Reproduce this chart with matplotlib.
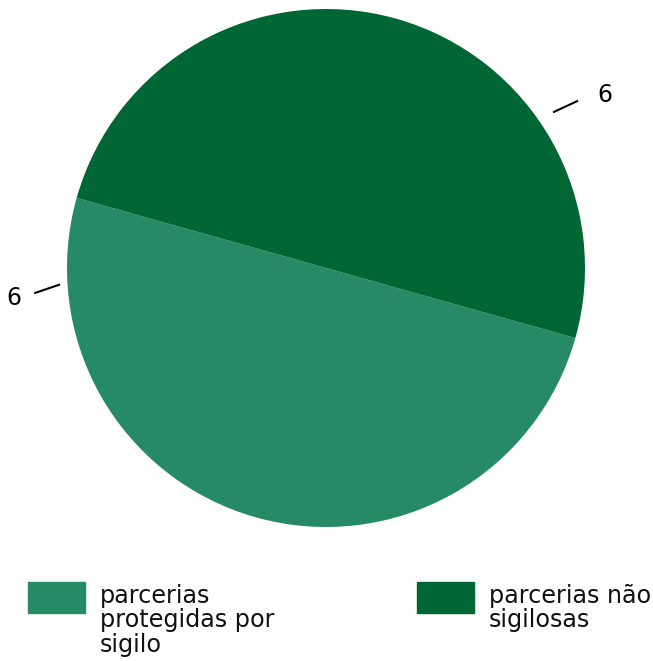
import matplotlib.pyplot as plt
import numpy as np
from matplotlib.patches import Rectangle

# slice data
categories = ['parcerias\nprotegidas por\nsigilo', 'parcerias não\nsigilosas']
values = [6, 6]
colors = ['#268a66', '#006633']

fig = plt.figure(figsize=(6.53, 6.61), dpi=100)
W, H = 653, 661

# pie area: center (326, 268) px, radius 259 px
cx, cy, r = 326, 268, 259
ax = fig.add_axes([(cx - r) / W, (H - cy - r) / H, 2 * r / W, 2 * r / H])
ax.axis('off')

ax.pie(values, colors=colors, startangle=164.3, radius=1,
       wedgeprops=dict(linewidth=0))
ax.set_xlim(-1, 1)
ax.set_ylim(-1, 1)

# value labels with short leader lines
# (start angle, start r, end angle, end r, text angle, text r), r as fraction of R
label_pos = [(183.6, 1.033, 184.9, 1.127, 185.5, 1.21),
             (34.4, 1.067, 33.6, 1.164, 31.8, 1.267)]
for val, (a0, r0, a1, r1, ta, tr) in zip(values, label_pos):
    a0, a1, t = np.deg2rad([a0, a1, ta])
    ax.plot([r0 * np.cos(a0), r1 * np.cos(a1)], [r0 * np.sin(a0), r1 * np.sin(a1)],
            color='black', lw=1.5, clip_on=False)
    ax.text(tr * np.cos(t), tr * np.sin(t), str(val), fontsize=17,
            ha='center', va='center', clip_on=False)

# legend drawn by hand
box_x = [28, 417]
for lab, col, bx in zip(categories, colors, box_x):
    fig.patches.append(Rectangle((bx / W, (H - 612.5) / H), 57 / W, 30.5 / H,
                                 transform=fig.transFigure, color=col))
    fig.text((bx + 72) / W, (H - 583.5) / H, lab, fontsize=17.2, ha='left', va='top',
             linespacing=1.03, color='#111111')

plt.savefig('out.png', dpi=100)
